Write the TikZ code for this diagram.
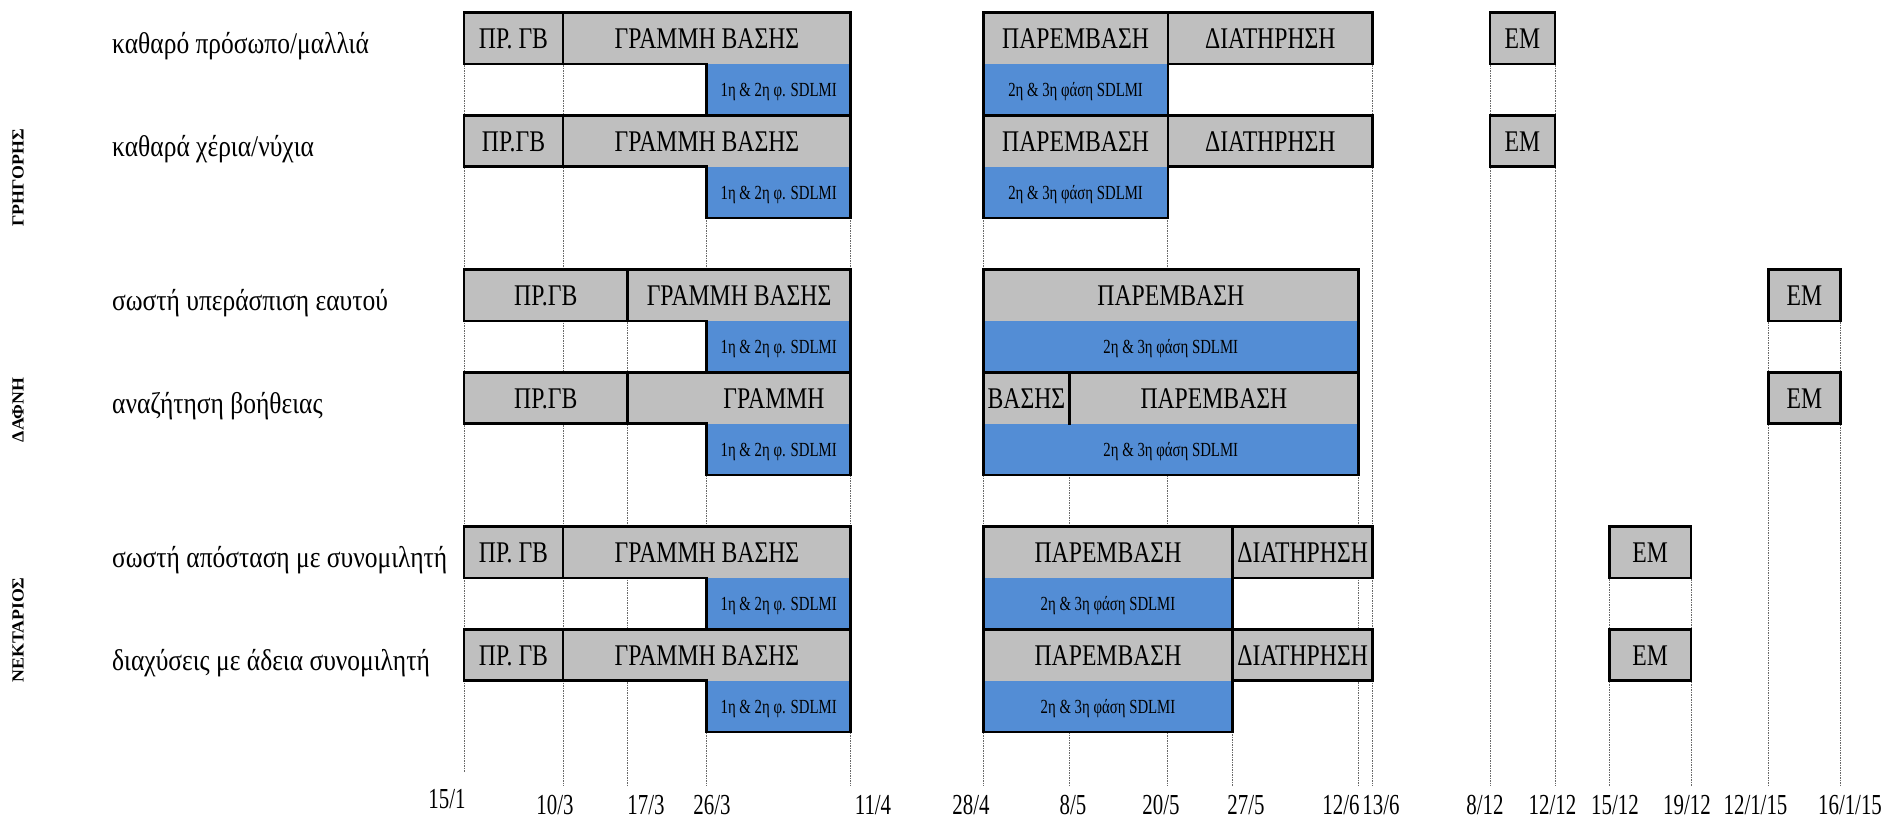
\documentclass[tikz,border=0pt]{standalone}
\usepackage{fontspec}
\setmainfont{Liberation Serif}
\newfontfamily\condf{Liberation Serif}[FakeStretch=0.72]
\newfontfamily\condb{Liberation Serif}[FakeStretch=0.74]
\newfontfamily\condg{Liberation Serif}[FakeStretch=0.79]
\newfontfamily\condl{Liberation Serif}[FakeStretch=0.85]
\newfontfamily\vertf{Liberation Serif}[FakeStretch=1.05]
\definecolor{barg}{RGB}{191,191,191}
\definecolor{barb}{RGB}{83,141,213}
\definecolor{gridc}{RGB}{105,105,105}
\begin{document}
\begin{tikzpicture}[x=1pt,y=-1pt,
  gfill/.style={fill=barg},
  bfill/.style={fill=barb},
  outl/.style={draw=black,line width=2.6pt,line join=miter,line cap=rect},
  gridln/.style={draw=gridc,line width=1pt,dash pattern=on 1.5pt off 1pt},
  graytxt/.style={font=\condg\fontsize{30}{36}\selectfont,inner sep=0pt,anchor=base},
  bluetxt/.style={font=\condb\fontsize{20}{24}\selectfont,inner sep=0pt,anchor=base},
  rowlab/.style={font=\condl\fontsize{30}{36}\selectfont,inner sep=0pt,anchor=base west},
  datelab/.style={font=\condf\fontsize{29}{34}\selectfont,inner sep=0pt,anchor=base},
  perslab/.style={font=\vertf\bfseries\fontsize{17}{20}\selectfont,inner sep=0pt,rotate=90}]
\useasboundingbox (0,0) rectangle (1887,817);
\fill[white] (0,0) rectangle (1887,817);

% ---- grid lines (dates)
\foreach \x in {563,706.7,850.7,983.3,1167.8,1372.7,1490,1555}
  \draw[gridln] (\x,12.5) -- (\x,786);
\draw[gridln] (464,12.5) -- (464,772);
\foreach \x in {627.5,1069.5,1358.3,1768.3,1840.5}
  \draw[gridln] (\x,269.5) -- (\x,786);
\foreach \x in {1232.7,1609.3,1691}
  \draw[gridln] (\x,526.5) -- (\x,786);

% ---- fills
\foreach \t/\m/\b in {12.5/63.9/115.3, 115.3/166.7/218.1}{
  \fill[gfill] (464,\t) rectangle (850.7,\m);
  \fill[bfill] (706.7,\m) rectangle (850.7,\b);
  \fill[gfill] (983.3,\t) rectangle (1372.7,\m);
  \fill[bfill] (983.3,\m) rectangle (1167.8,\b);
  \fill[gfill] (1490,\t) rectangle (1555,\m);
}
\foreach \t/\m/\b in {269.5/320.9/372.3, 372.3/423.7/475.1}{
  \fill[gfill] (464,\t) rectangle (850.7,\m);
  \fill[bfill] (706.7,\m) rectangle (850.7,\b);
  \fill[gfill] (983.3,\t) rectangle (1358.3,\m);
  \fill[bfill] (983.3,\m) rectangle (1358.3,\b);
  \fill[gfill] (1768.3,\t) rectangle (1840.5,\m);
}
\foreach \t/\m/\b in {526.5/577.9/629.3, 629.3/680.7/732.1}{
  \fill[gfill] (464,\t) rectangle (850.7,\m);
  \fill[bfill] (706.7,\m) rectangle (850.7,\b);
  \fill[gfill] (983.3,\t) rectangle (1372.7,\m);
  \fill[bfill] (983.3,\m) rectangle (1232.7,\b);
  \fill[gfill] (1609.3,\t) rectangle (1691,\m);
}

% ---- outlines
\foreach \t/\m/\b in {12.5/63.9/115.3, 115.3/166.7/218.1}{
  \draw[outl] (464,\t) -- (850.7,\t) -- (850.7,\b) -- (706.7,\b) -- (706.7,\m) -- (464,\m) -- cycle;
  \draw[outl] (563,\t) -- (563,\m);
  \draw[outl] (983.3,\t) -- (1372.7,\t) -- (1372.7,\m) -- (1167.8,\m) -- (1167.8,\b) -- (983.3,\b) -- cycle;
  \draw[outl] (1167.8,\t) -- (1167.8,\m);
  \draw[outl] (1490,\t) rectangle (1555,\m);
}
\foreach \t/\m/\b in {269.5/320.9/372.3, 372.3/423.7/475.1}{
  \draw[outl] (464,\t) -- (850.7,\t) -- (850.7,\b) -- (706.7,\b) -- (706.7,\m) -- (464,\m) -- cycle;
  \draw[outl] (627.5,\t) -- (627.5,\m);
  \draw[outl] (983.3,\t) rectangle (1358.3,\b);
  \draw[outl] (1768.3,\t) rectangle (1840.5,\m);
}
\draw[outl] (1069.5,372.3) -- (1069.5,423.7);
\foreach \t/\m/\b in {526.5/577.9/629.3, 629.3/680.7/732.1}{
  \draw[outl] (464,\t) -- (850.7,\t) -- (850.7,\b) -- (706.7,\b) -- (706.7,\m) -- (464,\m) -- cycle;
  \draw[outl] (563,\t) -- (563,\m);
  \draw[outl] (983.3,\t) -- (1372.7,\t) -- (1372.7,\m) -- (1232.7,\m) -- (1232.7,\b) -- (983.3,\b) -- cycle;
  \draw[outl] (1232.7,\t) -- (1232.7,\m);
  \draw[outl] (1609.3,\t) rectangle (1691,\m);
}

% ---- row 1
\node[rowlab] (l1) at (112,53.2) {καθαρό πρόσωπο/μαλλιά};
\node[graytxt] (g1a) at (513.5,48.2) {ΠΡ. ΓΒ};
\node[graytxt] (g1b) at (706.9,48.2) {ΓΡΑΜΜΗ ΒΑΣΗΣ};
\node[bluetxt] (b1a) at (778.7,96.2) {1η \& 2η φ. SDLMI};
\node[graytxt] (g1c) at (1075.6,48.2) {ΠΑΡΕΜΒΑΣΗ};
\node[graytxt] (g1d) at (1270.3,48.2) {ΔΙΑΤΗΡΗΣΗ};
\node[bluetxt] (b1b) at (1075.6,96.2) {2η \& 3η φάση SDLMI};
\node[graytxt] (e1) at (1522.5,48.2) {ΕΜ};
% ---- row 2
\node[rowlab] (l2) at (112,156) {καθαρά χέρια/νύχια};
\node[graytxt] (g2a) at (513.5,151) {ΠΡ.ΓΒ};
\node[graytxt] (g2b) at (706.9,151) {ΓΡΑΜΜΗ ΒΑΣΗΣ};
\node[bluetxt] (b2a) at (778.7,199) {1η \& 2η φ. SDLMI};
\node[graytxt] (g2c) at (1075.6,151) {ΠΑΡΕΜΒΑΣΗ};
\node[graytxt] (g2d) at (1270.3,151) {ΔΙΑΤΗΡΗΣΗ};
\node[bluetxt] (b2b) at (1075.6,199) {2η \& 3η φάση SDLMI};
\node[graytxt] (e2) at (1522.5,151) {ΕΜ};
% ---- row 3
\node[rowlab] (l3) at (112,310.2) {σωστή υπεράσπιση εαυτού};
\node[graytxt] (g3a) at (545.8,305.2) {ΠΡ.ΓΒ};
\node[graytxt] (g3b) at (739.1,305.2) {ΓΡΑΜΜΗ ΒΑΣΗΣ};
\node[bluetxt] (b3a) at (778.7,353.2) {1η \& 2η φ. SDLMI};
\node[graytxt] (g3c) at (1170.8,305.2) {ΠΑΡΕΜΒΑΣΗ};
\node[bluetxt] (b3b) at (1170.8,353.2) {2η \& 3η φάση SDLMI};
\node[graytxt] (e3) at (1804.4,305.2) {ΕΜ};
% ---- row 4
\node[rowlab] (l4) at (112,413) {αναζήτηση βοήθειας};
\node[graytxt] (g4a) at (545.8,408) {ΠΡ.ΓΒ};
\node[graytxt] (g4b) at (774,408) {ΓΡΑΜΜΗ};
\node[bluetxt] (b4a) at (778.7,456) {1η \& 2η φ. SDLMI};
\node[graytxt] (g4c) at (1026.4,408) {ΒΑΣΗΣ};
\node[graytxt] (g4d) at (1213.9,408) {ΠΑΡΕΜΒΑΣΗ};
\node[bluetxt] (b4b) at (1170.8,456) {2η \& 3η φάση SDLMI};
\node[graytxt] (e4) at (1804.4,408) {ΕΜ};
% ---- row 5
\node[rowlab] (l5) at (112,567.2) {σωστή απόσταση με συνομιλητή};
\node[graytxt] (g5a) at (513.5,562.2) {ΠΡ. ΓΒ};
\node[graytxt] (g5b) at (706.9,562.2) {ΓΡΑΜΜΗ ΒΑΣΗΣ};
\node[bluetxt] (b5a) at (778.7,610.2) {1η \& 2η φ. SDLMI};
\node[graytxt] (g5c) at (1108,562.2) {ΠΑΡΕΜΒΑΣΗ};
\node[graytxt] (g5d) at (1302.7,562.2) {ΔΙΑΤΗΡΗΣΗ};
\node[bluetxt] (b5b) at (1108,610.2) {2η \& 3η φάση SDLMI};
\node[graytxt] (e5) at (1650.2,562.2) {ΕΜ};
% ---- row 6
\node[rowlab] (l6) at (112,670) {διαχύσεις με άδεια συνομιλητή};
\node[graytxt] (g6a) at (513.5,665) {ΠΡ. ΓΒ};
\node[graytxt] (g6b) at (706.9,665) {ΓΡΑΜΜΗ ΒΑΣΗΣ};
\node[bluetxt] (b6a) at (778.7,713) {1η \& 2η φ. SDLMI};
\node[graytxt] (g6c) at (1108,665) {ΠΑΡΕΜΒΑΣΗ};
\node[graytxt] (g6d) at (1302.7,665) {ΔΙΑΤΗΡΗΣΗ};
\node[bluetxt] (b6b) at (1108,713) {2η \& 3η φάση SDLMI};
\node[graytxt] (e6) at (1650.2,665) {ΕΜ};

% ---- person labels
\node[perslab] (p1) at (18,178) {ΓΡΗΓΟΡΗΣ};
\node[perslab] (p2) at (18,410) {ΔΑΦΝΗ};
\node[perslab] (p3) at (18,630) {ΝΕΚΤΑΡΙΟΣ};

% ---- dates
\node[datelab] (d1) at (447,808) {15/1};
\node[datelab] (d2) at (555,814) {10/3};
\node[datelab] (d3) at (646,814) {17/3};
\node[datelab] (d4) at (712,814) {26/3};
\node[datelab] (d5) at (873,814) {11/4};
\node[datelab] (d6) at (971,814) {28/4};
\node[datelab] (d7) at (1073,814) {8/5};
\node[datelab] (d8) at (1161,814) {20/5};
\node[datelab] (d9) at (1246,814) {27/5};
\node[datelab] (d10) at (1341,814) {12/6};
\node[datelab] (d11) at (1381,814) {13/6};
\node[datelab] (d12) at (1485,814) {8/12};
\node[datelab] (d13) at (1552.5,814) {12/12};
\node[datelab] (d14) at (1615,814) {15/12};
\node[datelab] (d15) at (1687,814) {19/12};
\node[datelab] (d16) at (1755.5,814) {12/1/15};
\node[datelab] (d17) at (1850,814) {16/1/15};
\end{tikzpicture}
\end{document}
